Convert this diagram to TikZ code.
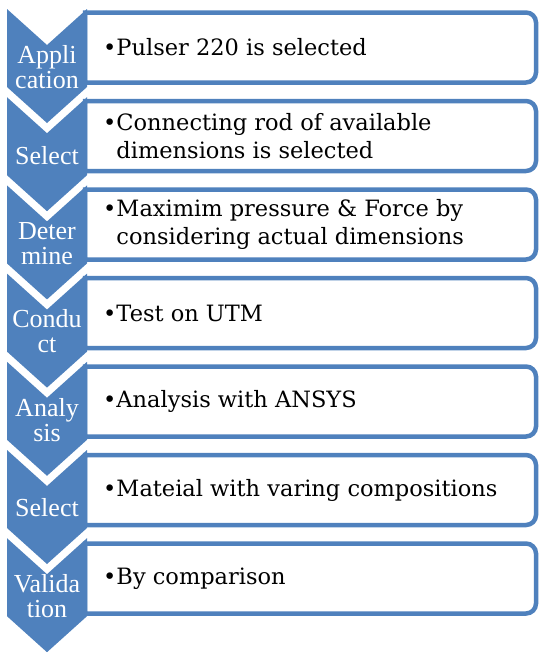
\documentclass[tikz,border=0pt]{standalone}
\usepackage{fontspec}
\setmainfont{Liberation Serif}
\newfontfamily\boxfont{DejaVu Serif}
\definecolor{sablue}{HTML}{4F81BD}
\tikzset{
  chev/.style={fill=sablue, draw=none},
  listbox/.style={draw=sablue, line width=4.5pt, fill=white},
  chevtext/.style={text=white, align=center, inner sep=0pt, font=\fontsize{26}{25}\selectfont},
  boxtext/.style={text=black, align=left, anchor=west, inner sep=0pt, font=\boxfont\fontsize{22.5}{27.5}\selectfont},
}
\begin{document}
\begin{tikzpicture}[x=1pt,y=-1pt]
\useasboundingbox (0,0) rectangle (539,653);
% boxes
\foreach \k in {0,...,6}{
  \pgfmathsetmacro{\bt}{12.5+88.5*\k}
  \pgfmathsetmacro{\bb}{\bt+70}
  \draw[listbox] (85,\bt) [rounded corners=10pt] -- (536,\bt) -- (536,\bb) [sharp corners] -- (85,\bb) -- cycle;
}
% chevrons
\foreach \k in {0,...,6}{
  \pgfmathsetmacro{\ct}{9+88.2*\k}
  \fill[chev] (7,\ct) -- (47,\ct+36) -- (87,\ct) -- (87,\ct+78) -- (47,\ct+114) -- (7,\ct+78) -- cycle;
}
% chevron texts
\node[chevtext] (c1) at (47, 67) {Appli\\cation};
\node[chevtext] (c2) at (47, 155.2) {Select};
\node[chevtext] (c3) at (47, 243.4) {Deter\\mine};
\node[chevtext] (c4) at (47, 331.6) {Condu\\ct};
\node[chevtext] (c5) at (47, 419.8) {Analy\\sis};
\node[chevtext] (c6) at (47, 508) {Select};
\node[chevtext] (c7) at (47, 596.2) {Valida\\tion};
% box texts
\node[boxtext] (t1) at (103, 47.5) {•Pulser 220 is selected};
\node[boxtext] (t2) at (103, 136) {•Connecting rod of available\\\hphantom{•}dimensions is selected};
\node[boxtext] (t3) at (103, 224.5) {•Maximim pressure \& Force by\\\hphantom{•}considering actual dimensions};
\node[boxtext] (t4) at (103, 313) {•Test on UTM};
\node[boxtext] (t5) at (103, 401.5) {•Analysis with ANSYS};
\node[boxtext] (t6) at (103, 490) {•Mateial with varing compositions};
\node[boxtext] (t7) at (103, 578.5) {•By comparison};
\end{tikzpicture}
\end{document}
